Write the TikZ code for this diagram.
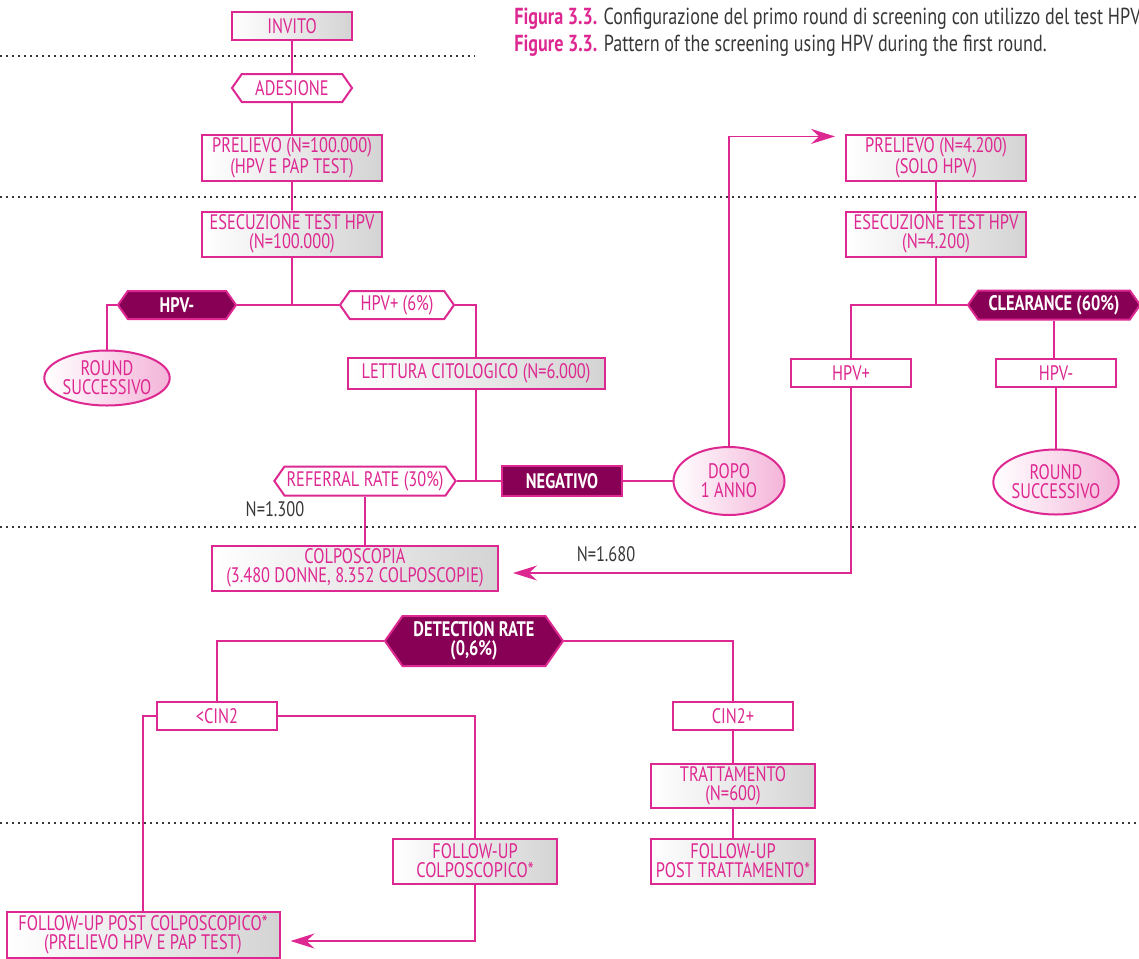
\documentclass[tikz,border=0pt]{standalone}
\usepackage{fontspec}
\setmainfont{PT Sans}[FakeStretch=0.78]
\usetikzlibrary{shapes.geometric,shapes.symbols,arrows.meta}
\definecolor{flowpink}{RGB}{222,40,145}
\definecolor{flowdark}{RGB}{135,0,85}
\definecolor{capgray}{RGB}{55,55,55}
\tikzset{
    flowbox/.style={draw=flowpink, line width=1pt, text=flowpink, left color=white, right color=black!17,
        align=center, inner sep=1pt, font=\fontsize{10.5}{9.5}\selectfont},
    plainbox/.style={draw=flowpink, line width=1pt, text=flowpink, fill=white,
        align=center, inner sep=1pt, font=\fontsize{10.5}{9.5}\selectfont},
    hexa/.style={signal, signal to=west and east, signal pointer angle=110, draw=flowpink, line width=1pt,
        fill=white, text=flowpink, align=center, inner sep=1pt, font=\fontsize{10.5}{9.5}\selectfont},
    darkhexa/.style={hexa, fill=flowdark, text=white, font=\fontsize{10.5}{9.5}\selectfont\bfseries},
    oval/.style={ellipse, draw=flowpink, line width=1pt, text=flowpink, left color=white, right color=flowpink!35,
        align=center, inner sep=0pt, font=\fontsize{10.5}{9.5}\selectfont},
    small/.style={minimum width=60pt, minimum height=14pt},
    wide/.style={minimum width=90pt, minimum height=22.5pt},
    link/.style={draw=flowpink, line width=0.85pt},
    arrowlink/.style={link, -{Stealth[length=12pt, width=7.5pt, inset=4pt]}},
    sep/.style={draw=capgray, line width=1pt, dotted},
    count/.style={text=capgray, font=\fontsize{10.5}{9}\selectfont, inner sep=0pt},
}
\begin{document}
\begin{tikzpicture}[x=0.5pt, y=-0.5pt]
    \useasboundingbox (0,0) rectangle (1139,958);
    % phase separators
    \draw [sep] (0,56) -- (475,56);
    \foreach \y in {197,527,823} {
        \draw [sep] (0,\y) -- (1139,\y);
    }

    % caption
    \node [anchor=base west, text=capgray, font=\fontsize{11.6}{13}\selectfont, inner sep=0pt] (capit) at (514,25)
        {\textcolor{flowpink}{\bfseries Figura 3.3.} Configurazione del primo round di screening con utilizzo del test HPV};
    \node [anchor=base west, text=capgray, font=\fontsize{11.6}{13}\selectfont, inner sep=0pt] (capen) at (514,51)
        {\textcolor{flowpink}{\bfseries Figure 3.3.} Pattern of the screening using HPV during the first round.};

    % first round
    \node [flowbox, small] (invito) at (292,26) {INVITO};
    \node [hexa, small] (adesione) at (292,88) {ADESIONE};
    \node [flowbox, wide] (prelievoA) at (292,158) {PRELIEVO (N=100.000)\\(HPV E PAP TEST)};
    \node [flowbox, wide] (esecA) at (292,234) {ESECUZIONE TEST HPV\\(N=100.000)};
    \node [darkhexa, minimum width=59pt, minimum height=14pt] (hpvneg) at (177,305) {HPV-};
    \node [hexa, minimum width=57pt, minimum height=14pt] (hpvpos) at (397,305) {HPV+ (6\%)};
    \node [oval, minimum width=56pt, minimum height=27.5pt] (roundA) at (107,378) {ROUND\\SUCCESSIVO};
    \node [flowbox, minimum width=128.5pt, minimum height=15.5pt] (lettura) at (476,373) {LETTURA CITOLOGICO (N=6.000)};
    \node [hexa, minimum width=89pt, minimum height=14.5pt] (referral) at (365,481) {REFERRAL RATE (30\%)};
    \node [darkhexa, minimum width=60pt, minimum height=15pt, signal to=nowhere] (negativo) at (562,481) {NEGATIVO};
    \node [oval, minimum width=55.5pt, minimum height=34pt] (dopo) at (729,481) {DOPO\\1 ANNO};
    \node [count, anchor=base] (nref) at (275,516) {N=1.300};

    % second test after one year
    \node [flowbox, wide] (prelievoB) at (936,158) {PRELIEVO (N=4.200)\\(SOLO HPV)};
    \node [flowbox, wide] (esecB) at (936,234) {ESECUZIONE TEST HPV\\(N=4.200)};
    \node [darkhexa, minimum width=86pt, minimum height=14.5pt] (clearance) at (1054,305) {CLEARANCE (60\%)};
    \node [plainbox, small] (hpvposB) at (851,373) {HPV+};
    \node [plainbox, small] (hpvnegB) at (1056,373) {HPV-};
    \node [oval, minimum width=55pt, minimum height=32.5pt] (roundB) at (1056,482) {ROUND\\SUCCESSIVO};
    \node [count, anchor=base] (npos) at (606,561) {N=1.680};

    % colposcopy
    \node [flowbox, minimum width=143pt, minimum height=22.5pt] (colpo) at (355,568) {COLPOSCOPIA\\(3.480 DONNE, 8.352 COLPOSCOPIE)};
    \node [darkhexa, minimum width=89pt, minimum height=25pt] (detection) at (474,641) {DETECTION RATE\\(0,6\%)};
    \node [plainbox, small] (cinlow) at (217,716) {<CIN2};
    \node [plainbox, small] (cinhigh) at (733,716) {CIN2+};
    \node [flowbox, minimum width=82pt, minimum height=22pt] (tratt) at (733,786) {TRATTAMENTO\\(N=600)};
    \node [flowbox, minimum width=82pt, minimum height=22.5pt] (fucolpo) at (475,861) {FOLLOW-UP\\COLPOSCOPICO*};
    \node [flowbox, minimum width=82pt, minimum height=22.5pt] (futratt) at (733,861) {FOLLOW-UP\\POST TRATTAMENTO*};
    \node [flowbox, minimum width=136.5pt, minimum height=23pt] (fupost) at (143,935) {FOLLOW-UP POST COLPOSCOPICO*\\(PRELIEVO HPV E PAP TEST)};

    % connectors, first round
    \draw [link] (invito) -- (adesione) -- (prelievoA) -- (esecA);
    \draw [link] (esecA.south) -- (esecA.south |- hpvneg.east);
    \draw [link] (hpvneg.east) -- (hpvpos.west);
    \draw [link] (hpvneg.west) -| (roundA.north);
    \draw [link] (hpvpos.east) -| (lettura.north);
    \draw [link] (lettura.south) -- (lettura.south |- negativo.west);
    \draw [link] (referral.east) -- (negativo.west);
    \draw [link] (negativo.east) -- (dopo.west);
    \draw [arrowlink, shorten >=5pt] (dopo.north) |- ([yshift=-1pt]prelievoB.north west);
    \draw [link] (referral.south) -- (referral.south |- colpo.north);

    % connectors, second test
    \draw [link] (prelievoB) -- (esecB);
    \draw [link] (esecB.south) -- (esecB.south |- clearance.west);
    \draw [link] (clearance.west) -| (hpvposB.north);
    \draw [link] (clearance.south) -- (clearance.south |- hpvnegB.north);
    \draw [link] (hpvnegB) -- (roundB);
    \draw [arrowlink, shorten >=7pt] (hpvposB.south) |- ([yshift=-2.5pt]colpo.east);

    % connectors, colposcopy
    \draw [link] (detection.west) -| (cinlow.north);
    \draw [link] (detection.east) -| (cinhigh.north);
    \draw [link] (cinlow.west) -| (fupost.north);
    \draw [link] (cinlow.east) -| (fucolpo.north);
    \draw [arrowlink, shorten >=5pt] (fucolpo.south) |- ([yshift=-3pt]fupost.east);
    \draw [link] (cinhigh) -- (tratt) -- (futratt);
\end{tikzpicture}
\end{document}
